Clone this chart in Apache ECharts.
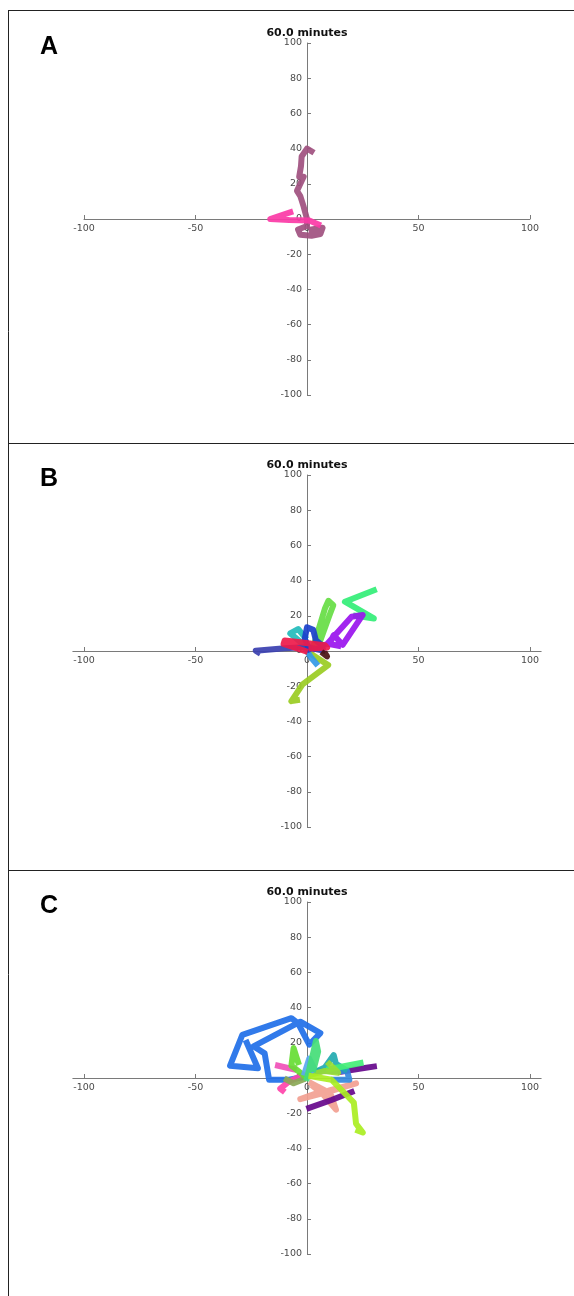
<!DOCTYPE html>
<html>
<head>
<meta charset="utf-8">
<script src="https://cdn.jsdelivr.net/npm/echarts@6.0.0/dist/echarts.min.js"></script>
<style>
  html, body { margin: 0; padding: 0; background: #fff; }
  #main { width: 574px; height: 1296px; }
</style>
</head>
<body>
<div id="main"></div>
<script>
// tick labels shared by the three panels
var xTickValues = [-100, -50, 0, 50, 100];
var yTickValues = [-100, -80, -60, -40, -20, 0, 20, 40, 60, 80, 100];
var panelTitle = '60.0 minutes';
var panelLetters = ['A', 'B', 'C'];

// panel A tracks (x, y displacement)
var trackA_mauve = [[2, -6], [7, -5], [6, -8.5], [2, -9.5], [-3, -9], [-4, -6], [0, -4], [0, 0],
  [-1.5, 7], [-3, 13], [-4.5, 16], [-1.5, 24], [-3.5, 24], [-2.7, 30], [-2.4, 35.5], [0, 40], [2, 38.5]];
var trackA_pink = [[5, -3], [1, -0.8], [-8, -0.6], [-16.5, 0], [-7.5, 3.8]];

// panel B tracks
var trackB_navy = [[7, 0.3], [0, 2.3], [-10, 1.5], [-23, 0.2], [-22, -0.6]];
var trackB_blue = [[1, 1], [-1, 7], [0, 13.5], [2.8, 12], [4, 6], [7, 3]];
var trackB_cyan = [[0, 2], [-7.5, 10], [-4, 12.5], [-1, 8]];
var trackB_red = [[-1, 0], [-10.5, 4], [-10, 6], [-3, 5], [3, 4], [8, 3.3], [9, 2], [2, 1.5]];
var trackB_lightgreen = [[3, 3], [8, 24], [9.6, 28.5], [11.8, 26], [10, 20], [6, 6]];
var trackB_springgreen = [[22, 20], [30, 18.5], [17, 28], [30, 34.5]];
var trackB_purple = [[3, 1], [9, 4], [20, 19.5], [25, 20.5], [16, 3.5], [12, 9], [10, 4], [14, 3]];
var trackB_yellowgreen = [[1, -1], [9.5, -8], [-2, -19], [-7, -28.5], [-4.5, -28]];
var trackB_lightblue = [[0, 0], [2, -4], [4, -7]];
var trackB_maroon = [[7.5, -1.5], [9, -3], [8.5, -2]];

// panel C tracks
var trackC_salmon = [[2, -3], [8, -7], [-3, -12], [9, -8], [22, -3], [10, -7], [13, -18], [7, -9], [3, -5]];
var trackC_purpleLow = [[1, -17], [11, -12.5], [20, -8]];
var trackC_purpleHigh = [[15, 3.5], [22, 5], [30, 6.5]];
var trackC_steel = [[12, -1], [19, -1], [18, 4], [5, 4]];
var trackC_blue = [[0, 1], [-8, -1], [-17, -1], [-19, 14], [-24, 18], [-3, 32], [6, 25.5], [1, 19],
  [-4, 31], [-7, 34], [-29, 24.5], [-34.5, 7], [-22, 5.5], [-27, 20]];
var trackC_hotpink = [[-3, 1], [-8, -2], [-12, -6], [-11, -7]];
var trackC_pink2 = [[-6, 5], [-13, 7]];
var trackC_olive = [[-2, -1], [-6, -3], [-9, -1]];
var trackC_green = [[-1, 1], [-7, 7], [-6, 17], [-4, 9]];
var trackC_teal = [[3, 3], [8, 6], [12, 13], [13, 8], [17, 5]];
var trackC_mint = [[10, 5], [16, 6.5], [24, 8.5]];
var trackC_yellowgreen = [[2, 2], [8, 4], [14, 3], [10, 8]];
var trackC_lightblue = [[-1, 3], [1, 11], [3, 6], [0, 7], [2, 4]];
var trackC_springgreen = [[0, 0], [2, 10], [4, 21], [5, 15], [3, 5]];
var trackC_lime = [[2, 1], [11, -1], [21, -14], [22, -26], [25, -31], [23, -30]];

var panels = [
  { top: 43, xMin: -100, xMax: 100, tracks: [
    [trackA_mauve, '#a0507f'], [trackA_pink, '#fb3aa6']
  ]},
  { top: 475, xMin: -105, xMax: 105, tracks: [
    [trackB_springgreen, '#33ee77'], [trackB_purple, '#9a14ee'], [trackB_lightgreen, '#66dd44'],
    [trackB_yellowgreen, '#9acc22'], [trackB_lightblue, '#3399e6'], [trackB_cyan, '#22bbbb'],
    [trackB_navy, '#3a3fb0'], [trackB_blue, '#1a40cc'], [trackB_red, '#ee1a4a'], [trackB_maroon, '#4a1212']
  ]},
  { top: 902, xMin: -105, xMax: 105, tracks: [
    [trackC_salmon, '#f2a091'], [trackC_purpleLow, '#66088c'], [trackC_purpleHigh, '#66088c'],
    [trackC_steel, '#3388dd'], [trackC_blue, '#1f6fe8'], [trackC_hotpink, '#ff44aa'],
    [trackC_pink2, '#f050b8'], [trackC_olive, '#8aa855'], [trackC_teal, '#22aab0'],
    [trackC_mint, '#44ee77'], [trackC_yellowgreen, '#99dd33'], [trackC_green, '#66dd33'],
    [trackC_lightblue, '#5aa8f0'], [trackC_springgreen, '#44dd77'], [trackC_lime, '#aaee22']
  ]}
];

var cx = 307;      // pixel of x = 0
var sx = 2.23;     // pixels per unit along x
var gridH = 352;
var font = 'DejaVu Sans';

var grids = [], xAxes = [], yAxes = [], series = [], titles = [], graphics = [];

panels.forEach(function (p, i) {
  var left = cx + p.xMin * sx;
  grids.push({ left: left, width: (p.xMax - p.xMin) * sx, top: p.top, height: gridH });
  // axes crossing at the origin: shift the whole axis (line, ticks, labels) into the plot
  xAxes.push({
    type: 'value', gridIndex: i, min: p.xMin, max: p.xMax,
    position: 'bottom', offset: -gridH / 2,
    splitLine: { show: false },
    axisLine: { onZero: false, lineStyle: { color: '#7a7a7a', width: 1 } },
    axisTick: { inside: true, length: 4, customValues: xTickValues, lineStyle: { color: '#7a7a7a' } },
    axisLabel: { customValues: xTickValues, color: '#4a4a4a', fontSize: 9.5, fontFamily: font, margin: 5 }
  });
  yAxes.push({
    type: 'value', gridIndex: i, min: -100, max: 100,
    position: 'left', offset: -(cx - left),
    splitLine: { show: false },
    axisLine: { onZero: false, lineStyle: { color: '#7a7a7a', width: 1 } },
    axisTick: { inside: true, length: 4, customValues: yTickValues, lineStyle: { color: '#7a7a7a' } },
    axisLabel: { customValues: yTickValues, color: '#4a4a4a', fontSize: 9.5, fontFamily: font, margin: 5 }
  });
  titles.push({
    text: panelTitle, left: cx, top: p.top - 15, textAlign: 'center', padding: 0,
    textStyle: { fontSize: 11, fontWeight: 'bold', color: '#111', fontFamily: font }
  });
  graphics.push({
    type: 'text', left: 40, top: p.top - 8,
    style: { text: panelLetters[i], font: 'bold 25px "Liberation Sans", Arial, sans-serif', fill: '#000' }
  });
  p.tracks.forEach(function (t) {
    series.push({
      type: 'line', xAxisIndex: i, yAxisIndex: i,
      data: t[0], showSymbol: false, silent: true,
      lineStyle: { color: t[1], width: 6, opacity: 0.92, join: 'round', cap: 'square' }
    });
  });
});

// panel frames
[[8, 10.5, 574, 10.5], [8, 443.5, 574, 443.5], [8, 870.5, 574, 870.5], [8.5, 10, 8.5, 1296]].forEach(function (l) {
  graphics.push({
    type: 'line', shape: { x1: l[0], y1: l[1], x2: l[2], y2: l[3] },
    style: { stroke: '#222', lineWidth: 1 }
  });
});

var chart = echarts.init(document.getElementById('main'), null, { renderer: 'canvas' });
chart.setOption({
  animation: false,
  backgroundColor: '#fff',
  title: titles,
  grid: grids,
  xAxis: xAxes,
  yAxis: yAxes,
  series: series,
  graphic: graphics
});
</script>
</body>
</html>
